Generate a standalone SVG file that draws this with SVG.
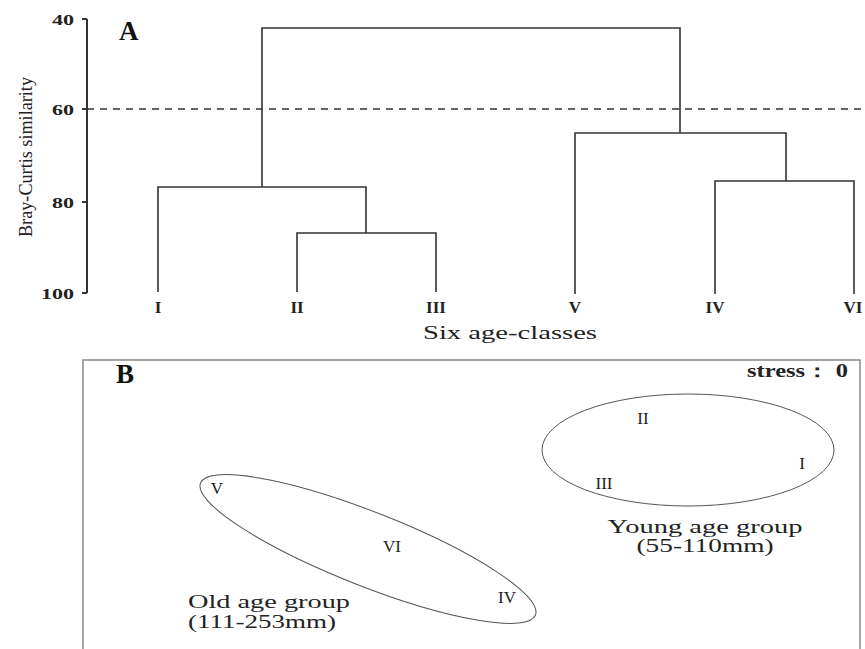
<svg xmlns="http://www.w3.org/2000/svg" width="865" height="649" viewBox="0 0 865 649">
<style>
.ln{stroke:#333;stroke-width:1.6;fill:none}
.ax{stroke:#333;stroke-width:2;fill:none}
.tk{font-family:"Liberation Serif",serif;font-weight:bold;font-size:15px;fill:#222;text-anchor:end}
.lf{font-family:"Liberation Serif",serif;font-weight:bold;font-size:17px;fill:#222;text-anchor:middle}
.pl{font-family:"Liberation Serif",serif;font-weight:bold;font-size:27px;fill:#111}
.tx{font-family:"Liberation Serif",serif;font-size:18px;fill:#222}
.pt{font-family:"Liberation Serif",serif;font-size:17px;fill:#222;text-anchor:middle}
.el{stroke:#555;stroke-width:1;fill:none}
</style>
<rect width="865" height="649" fill="#fff"/>
<g id="panelA">
<g id="axis">
<line class="ax" x1="87" y1="19" x2="87" y2="293"/>
<line class="ax" x1="82" y1="19" x2="87" y2="19"/>
<line class="ax" x1="82" y1="109" x2="87" y2="109"/>
<line class="ax" x1="82" y1="202" x2="87" y2="202"/>
<line class="ax" x1="82" y1="293" x2="87" y2="293"/>
<text class="tk" x="74" y="25" textLength="22" lengthAdjust="spacingAndGlyphs">40</text>
<text class="tk" x="74" y="115" textLength="22" lengthAdjust="spacingAndGlyphs">60</text>
<text class="tk" x="74" y="208" textLength="22" lengthAdjust="spacingAndGlyphs">80</text>
<text class="tk" x="74" y="299" textLength="33" lengthAdjust="spacingAndGlyphs">100</text>
<text class="tx" transform="translate(32,157) rotate(-90)" text-anchor="middle" font-size="21" textLength="160" lengthAdjust="spacingAndGlyphs">Bray-Curtis similarity</text>
</g>
<text class="pl" x="119" y="40">A</text>
<line id="cutoff" x1="87" y1="109" x2="865" y2="109" stroke="#333" stroke-width="1.6" stroke-dasharray="7,6"/>
<g id="connectors">
<polyline class="ln" points="262,187 262,28 680,28 680,133"/>
<polyline class="ln" points="158,292 158,187 366,187 366,233"/>
<polyline class="ln" points="297,292 297,233 436,233 436,292"/>
<polyline class="ln" points="575,294 575,133 786,133 786,181"/>
<polyline class="ln" points="715,294 715,181 854,181 854,294"/>
</g>
<g id="leaves">
<text class="lf" x="158" y="313">I</text>
<text class="lf" x="297" y="313">II</text>
<text class="lf" x="436" y="313">III</text>
<text class="lf" x="575" y="313">V</text>
<text class="lf" x="715" y="313">IV</text>
<text class="lf" x="853" y="313">VI</text>
</g>
<text class="tx" x="423" y="339" textLength="174" lengthAdjust="spacingAndGlyphs">Six age-classes</text>
</g>
<g id="panelB">
<rect x="83" y="360" width="777" height="300" fill="none" stroke="#888" stroke-width="1.5"/>
<text class="pl" x="116" y="383">B</text>
<text class="tx" x="747" y="377" font-size="14" font-weight="bold" textLength="101" lengthAdjust="spacingAndGlyphs">stress： 0</text>
<g id="young">
<ellipse class="el" cx="688" cy="450" rx="146" ry="56"/>
<text class="pt" x="643" y="424">II</text>
<text class="pt" x="802" y="469">I</text>
<text class="pt" x="604" y="489">III</text>
<text class="tx" x="705" y="533" text-anchor="middle" textLength="195" lengthAdjust="spacingAndGlyphs">Young age group</text>
<text class="tx" x="705" y="552" text-anchor="middle" textLength="137" lengthAdjust="spacingAndGlyphs">(55-110mm)</text>
</g>
<g id="old">
<ellipse class="el" cx="368" cy="549" rx="180" ry="37" transform="rotate(21.5 368 549)"/>
<text class="pt" x="217" y="494">V</text>
<text class="pt" x="392" y="552">VI</text>
<text class="pt" x="507" y="603">IV</text>
<text class="tx" x="188" y="608" textLength="162" lengthAdjust="spacingAndGlyphs">Old age group</text>
<text class="tx" x="188" y="628" textLength="148" lengthAdjust="spacingAndGlyphs">(111-253mm)</text>
</g>
</g>
</svg>
